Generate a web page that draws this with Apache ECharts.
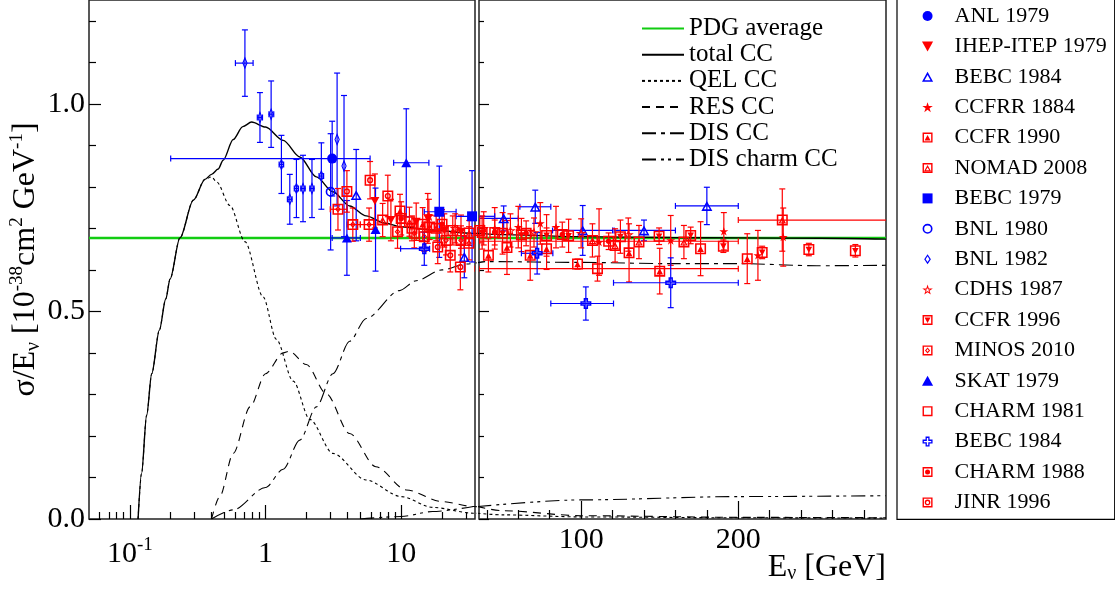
<!DOCTYPE html>
<html>
<head>
<meta charset="utf-8">
<title>sigma/E nu CC</title>
<script src="https://cdn.jsdelivr.net/npm/echarts@6/dist/echarts.min.js"></script>
<style>
html, body { margin: 0; padding: 0; background: #fff; }
#chart { width: 1115px; height: 593px; }
</style>
</head>
<body>
<div id="chart"></div>
<script>
// axis ranges
const lowRange = [0.05, 35]     // GeV, log
const highRange = [35, 294]     // GeV, linear
const yRange = [0, 1.25]

// tick values
const lowMajorTicks = [0.1, 1, 10]
const lowMinorTicks = [0.06, 0.07, 0.08, 0.09, 0.2, 0.3, 0.4, 0.5, 0.6, 0.7, 0.8, 0.9, 2, 3, 4, 5, 6, 7, 8, 9, 20, 30]
const highMajorTicks = [100, 200]
const highMinorTicks = [40, 60, 80, 120, 140, 160, 180, 220, 240, 260, 280]
const yMajorTicks = [0, 0.5, 1.0]
const yMinorTicks = [0.1, 0.2, 0.3, 0.4, 0.6, 0.7, 0.8, 0.9, 1.1, 1.2]

// model curves [E, sigma/E]
const pdgAverage = 0.677
const totalCC = [[0.115, 0], [0.122, 0.11], [0.133, 0.25], [0.145, 0.35], [0.165, 0.455], [0.184, 0.53], [0.198, 0.578], [0.234, 0.677], [0.294, 0.768], [0.358, 0.818], [0.40, 0.83], [0.448, 0.843], [0.487, 0.864], [0.578, 0.914], [0.68, 0.945], [0.79, 0.956], [1.0, 0.944], [1.35, 0.912], [1.79, 0.872], [2.37, 0.824], [3.14, 0.788], [4.17, 0.754], [5.52, 0.73], [7.5, 0.713], [10, 0.704], [17, 0.696], [34, 0.688], [50, 0.685], [100, 0.68], [157, 0.678], [200, 0.677], [252, 0.676], [294, 0.674]]
const qelCC = [[0.115, 0], [0.122, 0.11], [0.133, 0.25], [0.145, 0.35], [0.165, 0.455], [0.184, 0.53], [0.198, 0.578], [0.234, 0.677], [0.294, 0.768], [0.358, 0.818], [0.40, 0.824], [0.436, 0.812], [0.547, 0.755], [0.705, 0.668], [0.96, 0.535], [1.2, 0.433], [1.6, 0.332], [2.12, 0.24], [3.14, 0.158], [5.5, 0.094], [10, 0.054], [17, 0.028], [34, 0.014], [50, 0.01], [100, 0.005], [200, 0.003], [294, 0.002]]
const resCC = [[0.40, 0], [0.46, 0.054], [0.578, 0.158], [0.77, 0.27], [1.0, 0.35], [1.35, 0.4], [1.5, 0.404], [2.0, 0.372], [2.8, 0.302], [4.17, 0.206], [6.5, 0.126], [10.9, 0.07], [20, 0.042], [34, 0.03], [50, 0.02], [100, 0.008], [200, 0.004], [294, 0.003]]
const disCC = [[0.40, 0], [0.578, 0.022], [1.0, 0.076], [1.35, 0.12], [1.79, 0.19], [2.37, 0.27], [3.14, 0.35], [4.17, 0.428], [5.52, 0.483], [9.7, 0.55], [12.9, 0.574], [20, 0.6], [30, 0.614], [40, 0.62], [100, 0.618], [157, 0.615], [200, 0.615], [250, 0.61], [294, 0.611]]
const charmCC = [[5, 0], [10, 0.006], [17, 0.018], [34, 0.03], [100, 0.046], [200, 0.054], [294, 0.056]]

// measurements: [E, sigma/E, err] or [E, sigma/E, Elow, Ehigh, err]
const anl1979 = [[3.1, 0.868, 0.2, 5.9, 0.09]]
const ihepItep1979 = [[6.4, 0.766, 0.065], [8.4, 0.72, 0.05], [12.9, 0.716, 0.045], [15.7, 0.724, 0.06], [20.8, 0.695, 0.04], [27.6, 0.692, 0.04]]
const bebc1984a = [[4.66, 0.78, 0.11], [29.2, 0.631, 0.05], [50.7, 0.724, 35, 60, 0.03], [70.8, 0.752, 61, 80.7, 0.04], [101, 0.695, 81.8, 120, 0.06], [140, 0.695, 121, 160, 0.025], [180, 0.754, 160, 200, 0.045]]
const ccfrr1884 = [[45, 0.70, 0.05], [60, 0.703, 0.05], [74, 0.712, 0.05], [84, 0.703, 0.05], [111.4, 0.667, 0.08], [157, 0.671, 0.06], [190.8, 0.693, 0.045], [212.5, 0.635, 0.06], [228.6, 0.679, 0.07]]
const ccfr1990 = [[9.8, 0.742, 0.04], [14.4, 0.71, 0.04], [24, 0.695, 0.035], [41, 0.635, 0.04], [52.8, 0.654, 0.065], [67.6, 0.635, 0.06], [78, 0.651, 0.05], [97.7, 0.614, 0.012], [130.5, 0.641, 0.07], [150, 0.597, 0.055], [176, 0.651, 0.065], [205.7, 0.627, 0.06]]
const nomad2008 = [[7.3, 0.72, 0.04], [11.5, 0.716, 0.035], [16.2, 0.703, 0.03], [18.1, 0.70, 0.03], [31.7, 0.689, 0.03], [107.2, 0.671, 0.04], [121.6, 0.659, 0.04], [136.8, 0.667, 0.04], [165.4, 0.667, 0.04], [228, 0.72, 200, 300, 0.075]]
const bebc1979 = [[19.1, 0.74, 14.8, 25.4, 0.11], [33.3, 0.729, 25.4, 45, 0.11]]
const bnl1980 = [[3.02, 0.788, 0.14]]
const bnl1982 = [[0.705, 1.098, 0.6, 0.81, 0.08], [0.91, 0.967, 0.87, 0.95, 0.06], [1.1, 0.975, 1.06, 1.15, 0.08], [1.31, 0.854, 1.26, 1.36, 0.07], [1.51, 0.77, 1.45, 1.57, 0.06], [1.69, 0.796, 1.63, 1.75, 0.07], [1.89, 0.796, 1.82, 1.96, 0.08], [2.2, 0.796, 2.12, 2.28, 0.07], [2.58, 0.826, 2.48, 2.68, 0.08], [3.37, 0.914, 0.16], [3.79, 0.85, 0.17]]
const cdhs1987 = [[16, 0.73, 0.04], [25, 0.70, 0.035], [38, 0.70, 0.04], [55, 0.695, 0.04], [70, 0.69, 0.035], [100, 0.688, 0.035], [130, 0.685, 0.04]]
const ccfr1996 = [[37, 0.69, 0.04], [50, 0.688, 0.05], [62, 0.684, 0.04], [78, 0.683, 0.05], [92, 0.682, 0.04], [125, 0.68, 0.04], [149.6, 0.681, 0.02], [169.7, 0.683, 0.02], [190.5, 0.657, 0.015], [215.2, 0.642, 0.015], [244.9, 0.649, 0.015], [274.5, 0.646, 0.015]]
const minos2010 = [[3.42, 0.746, 3.0, 4.0, 0.05], [4.4, 0.709, 4.0, 5.0, 0.04], [5.8, 0.709, 5.0, 6.5, 0.04], [9.4, 0.692, 0.04], [12.5, 0.688, 0.035], [14.8, 0.68, 0.035], [21.4, 0.671, 0.035], [27.6, 0.671, 0.035], [31.6, 0.664, 0.04]]
const skat1979 = [[3.98, 0.677, 3.1, 5.0, 0.09], [6.47, 0.697, 0.1], [10.9, 0.858, 8.8, 16, 0.13]]
const charm1981 = [[12, 0.70, 0.03], [35.5, 0.695, 0.03], [110.4, 0.603, 35, 200, 0.03]]
const bebc1984b = [[14.8, 0.651, 9.9, 16.2, 0.04], [72, 0.64, 62, 82, 0.05], [103, 0.519, 80.7, 120.6, 0.04], [157, 0.569, 120.6, 200, 0.06]]
const charm1988 = [[10, 0.724, 0.04], [20, 0.71, 0.035], [45, 0.69, 0.03], [65, 0.688, 0.03], [88, 0.685, 0.03], [117.5, 0.669, 35, 200, 0.02]]
const jinr1996 = [[3.98, 0.789, 0.05], [5.9, 0.816, 0.045], [7.97, 0.778, 0.05], [18.6, 0.655, 0.04], [23, 0.635, 0.04], [27.3, 0.607, 0.055]]

const BLUE = '#0000ff'
const RED = '#ff0000'
const FONT = 'Liberation Serif'

// marker shapes (outer contour clockwise, holes counter clockwise)
const BOX = 'M0,0 H10 V10 H0 Z M1.4,1.4 V8.6 H8.6 V1.4 Z '
const SYM = {
    box: 'path://M0,0 H10 V10 H0 Z',
    tri: 'path://M5,0 L10,9 L0,9 Z',
    invTri: 'path://M0,0 L10,0 L5,9 Z',
    openTri: 'path://M5,0 L10,9 L0,9 Z M5,2.9 L2.3,7.6 L7.7,7.6 Z',
    star: 'path://M5,0 L6.2,3.6 L10,3.6 L6.9,5.8 L8.1,9.5 L5,7.2 L1.9,9.5 L3.1,5.8 L0,3.6 L3.8,3.6 Z',
    openStar: 'path://M5,0 L6.2,3.6 L10,3.6 L6.9,5.8 L8.1,9.5 L5,7.2 L1.9,9.5 L3.1,5.8 L0,3.6 L3.8,3.6 Z M5,2.9 L4.46,4.54 L2.75,4.54 L4.15,5.53 L3.6,7.19 L5,6.16 L6.4,7.19 L5.86,5.53 L7.25,4.54 L5.54,4.54 Z',
    boxTri: 'path://' + BOX + 'M5,2.4 L8,8 L2,8 Z',
    boxOpenTri: 'path://' + BOX + 'M5,2 L8.5,8.2 L1.5,8.2 Z M5,4.6 L3.3,7.3 L6.7,7.3 Z',
    openCircle: 'path://M5,0 A5,5 0 1,1 5,10 A5,5 0 1,1 5,0 Z M5,1.6 A3.4,3.4 0 1,0 5,8.4 A3.4,3.4 0 1,0 5,1.6 Z',
    openDiamond: 'path://M4,0 L8,6 L4,12 L0,6 Z M4,2.6 L1.7,6 L4,9.4 L6.3,6 Z',
    boxInvTri: 'path://' + BOX + 'M2,2.4 L8,2.4 L5,8 Z',
    boxDiamond: 'path://' + BOX + 'M5,2 L7.6,5 L5,8 L2.4,5 Z M5,3.6 L3.8,5 L5,6.4 L6.2,5 Z',
    openBox: 'path://' + BOX,
    openCross: 'path://M3,0 L7,0 L7,3 L10,3 L10,7 L7,7 L7,10 L3,10 L3,7 L0,7 L0,3 L3,3 Z M4.3,1.3 L4.3,4.3 L1.3,4.3 L1.3,5.7 L4.3,5.7 L4.3,8.7 L5.7,8.7 L5.7,5.7 L8.7,5.7 L8.7,4.3 L5.7,4.3 L5.7,1.3 Z',
    boxDot: 'path://' + BOX + 'M5,2.5 A2.5,2.5 0 1,1 5,7.5 A2.5,2.5 0 1,1 5,2.5 Z',
    boxCircle: 'path://' + BOX + 'M5,2.2 A2.8,2.8 0 1,1 5,7.8 A2.8,2.8 0 1,1 5,2.2 Z M5,3.5 A1.5,1.5 0 1,0 5,6.5 A1.5,1.5 0 1,0 5,3.5 Z'
}

const experiments = [
    { name: 'ANL 1979', color: BLUE, symbol: 'circle', size: 10, data: anl1979 },
    { name: 'IHEP-ITEP 1979', color: RED, symbol: SYM.invTri, size: 9, data: ihepItep1979 },
    { name: 'BEBC 1984#a', color: BLUE, symbol: SYM.openTri, size: 11, data: bebc1984a },
    { name: 'CCFRR 1884', color: RED, symbol: SYM.star, size: 9, data: ccfrr1884 },
    { name: 'CCFR 1990', color: RED, symbol: SYM.boxTri, size: 11, data: ccfr1990 },
    { name: 'NOMAD 2008', color: RED, symbol: SYM.boxOpenTri, size: 11, data: nomad2008 },
    { name: 'BEBC 1979', color: BLUE, symbol: SYM.box, size: 10, data: bebc1979 },
    { name: 'BNL 1980', color: BLUE, symbol: SYM.openCircle, size: 10, data: bnl1980 },
    { name: 'BNL 1982', color: BLUE, symbol: SYM.openDiamond, size: [8, 13], data: bnl1982 },
    { name: 'CDHS 1987', color: RED, symbol: SYM.openStar, size: 11, data: cdhs1987 },
    { name: 'CCFR 1996', color: RED, symbol: SYM.boxInvTri, size: 11, data: ccfr1996 },
    { name: 'MINOS 2010', color: RED, symbol: SYM.boxDiamond, size: 11, data: minos2010 },
    { name: 'SKAT 1979', color: BLUE, symbol: SYM.tri, size: 10, data: skat1979 },
    { name: 'CHARM 1981', color: RED, symbol: SYM.openBox, size: 11, data: charm1981 },
    { name: 'BEBC 1984#b', color: BLUE, symbol: SYM.openCross, size: 11, data: bebc1984b },
    { name: 'CHARM 1988', color: RED, symbol: SYM.boxDot, size: 11, data: charm1988 },
    { name: 'JINR 1996', color: RED, symbol: SYM.boxCircle, size: 11, data: jinr1996 }
]

const curves = [
    { name: 'total CC', data: totalCC, dash: 'solid', width: 1.4 },
    { name: 'QEL CC', data: qelCC, dash: [3, 3], width: 1.1 },
    { name: 'RES CC', data: resCC, dash: [8, 6], width: 1.1 },
    { name: 'DIS CC', data: disCC, dash: [14, 5, 4, 5], width: 1.1 },
    { name: 'DIS charm CC', data: charmCC, dash: [14, 5, 3, 4, 3, 5], width: 1.1 }
]

function fullRows (list) {
    return list.map(r => r.length === 3 ? [r[0], r[1], r[0], r[0], r[2]] : r)
}

// error bars with small end caps
function errorBars (color) {
    return function (params, api) {
        const x = api.value(0)
        const y = api.value(1)
        const lo = api.value(2)
        const hi = api.value(3)
        const dy = api.value(4)
        const style = { stroke: color, lineWidth: 1.2 }
        const seg = (a, b) => ({ type: 'line', shape: { x1: a[0], y1: a[1], x2: b[0], y2: b[1] }, style })
        const children = []
        if (dy > 0) {
            const t = api.coord([x, y + dy])
            const b = api.coord([x, y - dy])
            children.push(seg(t, b), seg([t[0] - 3, t[1]], [t[0] + 3, t[1]]), seg([b[0] - 3, b[1]], [b[0] + 3, b[1]]))
        }
        if (hi > lo) {
            const l = api.coord([lo, y])
            const r = api.coord([hi, y])
            children.push(seg(l, r), seg([l[0], l[1] - 3], [l[0], l[1] + 3]), seg([r[0], r[1] - 3], [r[0], r[1] + 3]))
        }
        return { type: 'group', children }
    }
}

const series = []
const panels = [
    { axis: 0, keep: e => e <= 60, range: lowRange },
    { axis: 2, keep: e => e >= 30, range: highRange }
]

panels.forEach(p => {
    series.push({
        type: 'line', name: 'PDG average', xAxisIndex: p.axis, yAxisIndex: p.axis,
        data: [[p.range[0], pdgAverage], [p.range[1], pdgAverage]],
        symbol: 'none', lineStyle: { color: '#11cc11', width: 2.5 }, z: 1, silent: true
    })
    curves.forEach(c => {
        series.push({
            type: 'line', name: c.name, xAxisIndex: p.axis, yAxisIndex: p.axis,
            data: c.data.filter(d => p.keep(d[0])),
            symbol: 'none', smooth: 0.3, smoothMonotone: 'x',
            lineStyle: { color: '#000', width: c.width, type: c.dash }, z: 2, silent: true
        })
    })
})

experiments.forEach(exp => {
    const rows = fullRows(exp.data)
    panels.forEach(p => {
        series.push({
            type: 'scatter', name: exp.name, xAxisIndex: p.axis, yAxisIndex: p.axis,
            data: rows.map(r => [r[0], r[1]]),
            symbol: exp.symbol, symbolSize: exp.size, symbolKeepAspect: true,
            itemStyle: { color: exp.color, opacity: 1 }, z: 4, silent: true
        })
        series.push({
            type: 'custom', name: exp.name, xAxisIndex: p.axis, yAxisIndex: p.axis,
            data: rows, clip: true, renderItem: errorBars(exp.color), z: 3, silent: true
        })
    })
})

const supText = { fontFamily: FONT, fontSize: 19, color: '#000', verticalAlign: 'top' }
const subText = { fontFamily: FONT, fontSize: 20, color: '#000', verticalAlign: 'bottom' }
const tickLine = { color: '#000', width: 1.2 }

function xAxes (grid, type, range, major, minor, majorLen, minorLen, margin) {
    return [{
        gridIndex: grid, type, logBase: 10, min: range[0], max: range[1], position: 'bottom',
        axisLine: { show: false }, splitLine: { show: false },
        axisTick: { customValues: major, inside: true, length: majorLen, lineStyle: tickLine },
        axisLabel: {
            customValues: major, margin, color: '#000', fontFamily: FONT, fontSize: 30,
            formatter: v => v < 1 ? '{t|10}{sup|-1}' : '{t|' + v + '}',
            rich: { t: { fontFamily: FONT, fontSize: 30, color: '#000', lineHeight: 36 }, sup: supText }
        }
    }, {
        gridIndex: grid, type, logBase: 10, min: range[0], max: range[1], position: 'bottom',
        axisLine: { show: false }, splitLine: { show: false },
        axisTick: { customValues: minor, inside: true, length: minorLen, lineStyle: tickLine },
        axisLabel: { show: false }
    }]
}

function yAxes (grid, majorLen, minorLen, labels) {
    return [{
        gridIndex: grid, type: 'value', min: yRange[0], max: yRange[1], position: 'left',
        axisLine: { show: false }, splitLine: { show: false },
        axisTick: { customValues: yMajorTicks, inside: true, length: majorLen, lineStyle: tickLine },
        axisLabel: {
            show: labels, customValues: yMajorTicks, margin: 4, color: '#000',
            fontFamily: FONT, fontSize: 30, formatter: v => v.toFixed(1)
        }
    }, {
        gridIndex: grid, type: 'value', min: yRange[0], max: yRange[1], position: 'left',
        axisLine: { show: false }, splitLine: { show: false },
        axisTick: { customValues: yMinorTicks, inside: true, length: minorLen, lineStyle: tickLine },
        axisLabel: { show: false }
    }]
}

const xAxis = xAxes(0, 'log', lowRange, lowMajorTicks, lowMinorTicks, 14, 7, 17)
    .concat(xAxes(1, 'value', highRange, highMajorTicks, highMinorTicks, 18, 9, 3))
xAxis[2].name = '{t|E}{sub|ν}{t| [GeV]}'
xAxis[2].nameLocation = 'end'
xAxis[2].nameGap = 0
xAxis[2].nameTextStyle = {
    align: 'right', verticalAlign: 'top', padding: [33, 0, 0, 0],
    rich: { t: { fontFamily: FONT, fontSize: 32, color: '#000' }, sub: subText }
}

const yAxis = yAxes(0, 12, 7, true).concat(yAxes(1, 10, 5, false))
yAxis[0].name = '{t|σ/E}{sub|ν}{t| [10}{sup|-38}{t|cm}{sup|2}{t| GeV}{sup|-1}{t|]}'
yAxis[0].nameLocation = 'middle'
yAxis[0].nameRotate = 90
yAxis[0].nameGap = 44
yAxis[0].nameTextStyle = {
    rich: { t: { fontFamily: FONT, fontSize: 32, color: '#000', lineHeight: 36 }, sup: supText, sub: subText }
}

const chart = echarts.init(document.getElementById('chart'))
chart.setOption({
    animation: false,
    backgroundColor: '#fff',
    grid: [
        { left: 89, top: 0, width: 386, height: 519, show: true, borderColor: '#222', borderWidth: 1.5 },
        { left: 479, top: 0, width: 407, height: 519, show: true, borderColor: '#222', borderWidth: 1.5 }
    ],
    xAxis,
    yAxis,
    legend: [{
        orient: 'vertical', left: 636, top: 11, itemWidth: 42, itemHeight: 14, itemGap: 1.2,
        selectedMode: false,
        itemStyle: { opacity: 0, color: 'rgba(0,0,0,0)', borderWidth: 0 },
        textStyle: { fontFamily: FONT, fontSize: 25, color: '#000' },
        data: ['PDG average', 'total CC', 'QEL CC', 'RES CC', 'DIS CC', 'DIS charm CC']
    }, {
        orient: 'vertical', left: 897, top: -1, itemWidth: 44, itemHeight: 10, itemGap: 8.4,
        padding: [6, 8, 6, 25], borderColor: '#000', borderWidth: 1.2,
        selectedMode: false,
        formatter: name => name.split('#')[0],
        textStyle: { fontFamily: FONT, fontSize: 22, color: '#000' },
        data: experiments.map(e => e.name)
    }],
    series
})
</script>
</body>
</html>
